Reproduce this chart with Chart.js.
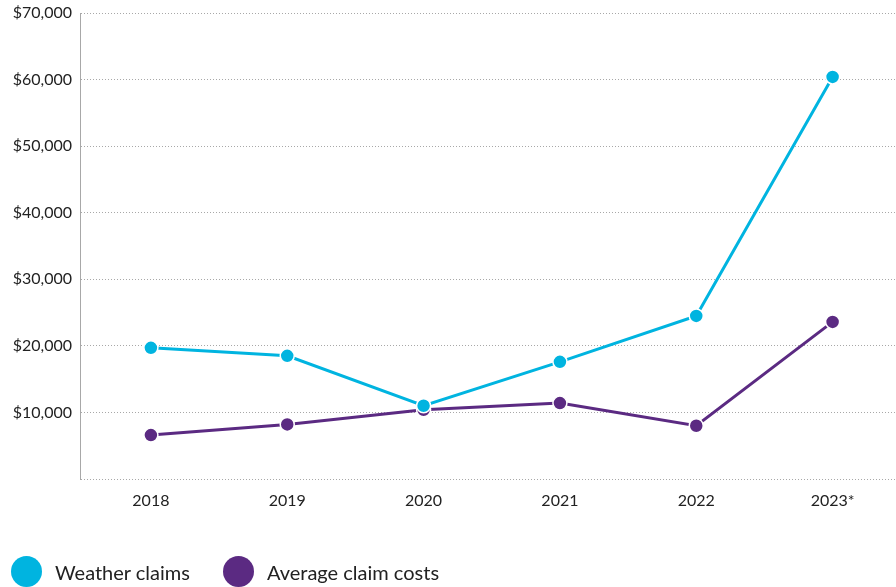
<!DOCTYPE html>
<html>
<head>
<meta charset="utf-8">
<script src="https://cdn.jsdelivr.net/npm/chart.js@4/dist/chart.umd.min.js"></script>
<style>
html,body{margin:0;padding:0;background:#fff;}
#wrap{width:896px;height:587px;position:relative;}
#legend{position:absolute;left:11px;top:556px;height:31px;display:flex;align-items:center;font-family:Lato,"Liberation Sans",sans-serif;font-size:20px;color:#222;}
.item{display:flex;align-items:center;}
.dot{width:31px;height:31px;border-radius:50%;display:inline-block;margin-right:13px;}
</style>
</head>
<body>
<div id="wrap"><canvas id="c" width="896" height="587"></canvas>
<div id="legend"></div></div>
<script>
const years = ['2018', '2019', '2020', '2021', '2022', '2023*'];
const weatherClaims = [19700, 18500, 11000, 17600, 24500, 60400];
const averageClaimCosts = [6600, 8200, 10400, 11400, 8000, 23600];
const yTicks = [0, 10000, 20000, 30000, 40000, 50000, 60000, 70000];
const seriesNames = ['Weather claims', 'Average claim costs'];

const cyan = '#00b4e0';
const purple = '#5b2a82';
const gridColor = '#a8a8a8';
const FONT = 'Lato, "Liberation Sans", sans-serif';

function pts(arr){ return arr.map((v,i)=>({x:i, y:v})); }

const chart = new Chart(document.getElementById('c'), {
  type: 'line',
  data: {
    datasets: [
      {
        label: seriesNames[0],
        data: pts(weatherClaims),
        borderColor: cyan,
        backgroundColor: cyan,
        borderWidth: 3,
        pointRadius: 7,
        pointBorderColor: '#fff',
        pointBorderWidth: 1.5,
        pointBackgroundColor: cyan,
        tension: 0,
        clip: false
      },
      {
        label: seriesNames[1],
        data: pts(averageClaimCosts),
        borderColor: purple,
        backgroundColor: purple,
        borderWidth: 3,
        pointRadius: 7,
        pointBorderColor: '#fff',
        pointBorderWidth: 1.5,
        pointBackgroundColor: purple,
        tension: 0,
        clip: false
      }
    ]
  },
  options: {
    responsive: false,
    animation: false,
    layout: { autoPadding: false, padding: { top: 13, right: 0, left: 0, bottom: 50 } },
    plugins: {
      tooltip: { enabled: false },
      legend: { display: false }
    },
    scales: {
      x: {
        type: 'linear',
        min: -0.52,
        max: 5.465,
        grid: { display: false },
        border: { display: false },
        afterBuildTicks: (axis) => { axis.ticks = years.map((_, i) => ({ value: i })); },
        afterFit: (axis) => { axis.height = 58; axis.paddingLeft = 0; axis.paddingRight = 0; },
        ticks: {
          autoSkip: false,
          maxRotation: 0,
          padding: 4,
          color: '#222',
          font: { family: FONT, size: 16 },
          callback: (v) => years[v]
        }
      },
      y: {
        min: 0,
        max: 70000,
        afterBuildTicks: (axis) => { axis.ticks = yTicks.map(v => ({ value: v })); },
        afterFit: (axis) => { axis.width = 80; axis.paddingTop = 0; axis.paddingBottom = 0; },
        grid: {
          color: gridColor,
          lineWidth: 1,
          drawTicks: false
        },
        border: { display: true, color: gridColor, dash: [1, 2] },
        ticks: {
          padding: 8,
          color: '#222',
          font: { family: FONT, size: 16 },
          callback: (v) => v === 0 ? '' : '$' + v.toLocaleString('en-US')
        }
      }
    }
  }
});

// HTML legend built from the chart's datasets
const legend = document.getElementById('legend');
chart.data.datasets.forEach((ds, i) => {
  const item = document.createElement('span');
  item.className = 'item';
  if (i > 0) item.style.marginLeft = '33px';
  const dot = document.createElement('span');
  dot.className = 'dot';
  dot.style.background = ds.borderColor;
  const txt = document.createElement('span');
  txt.textContent = ds.label;
  item.appendChild(dot);
  item.appendChild(txt);
  legend.appendChild(item);
});
</script>
</body>
</html>
